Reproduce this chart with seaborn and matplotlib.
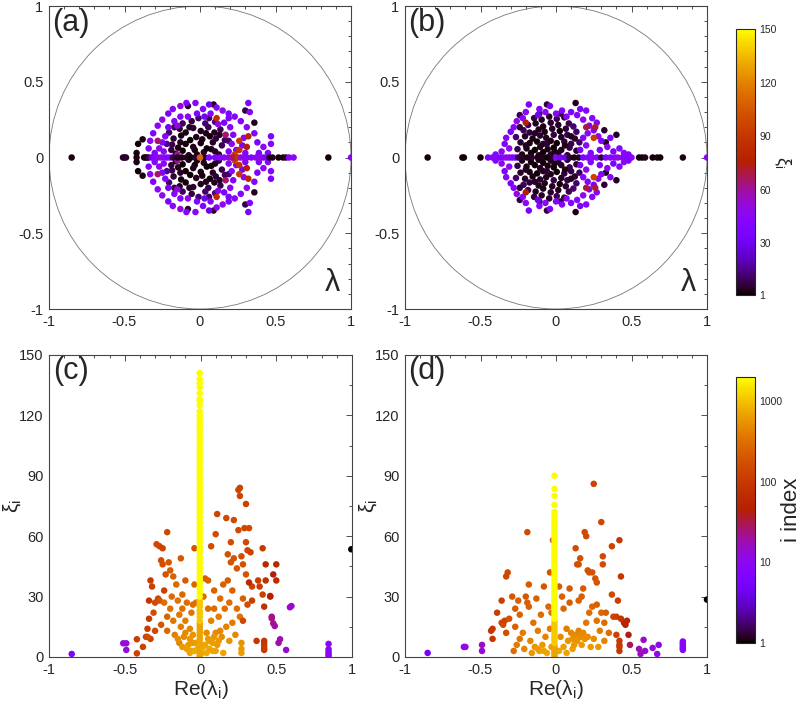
import numpy as np
import matplotlib
matplotlib.use("Agg")
import matplotlib.pyplot as plt
import seaborn as sns
from matplotlib.colors import Normalize, LogNorm
from matplotlib.cm import ScalarMappable
from matplotlib.patches import Circle
from matplotlib.ticker import MultipleLocator, LogLocator, NullFormatter

# --------------------------------------------------------------------------------
# Data
# (a), (b): eigenvalues (Re, Im, xi). Complex ones come in conjugate pairs, so only
# the upper half plane is listed; real ones are listed separately.
# (c), (d): (Re(lambda_i), xi_i, i index)
# --------------------------------------------------------------------------------

A_core = [  # dark core, small xi
    (-0.16, 0.025, 3), (-0.115, 0.045, 2), (-0.075, 0.015, 4), (-0.035, 0.05, 2), (0.025, 0.035, 5),
    (0.075, 0.055, 3), (0.125, 0.02, 6), (-0.185, 0.085, 8), (-0.145, 0.065, 3), (-0.095, 0.09, 2),
    (-0.045, 0.07, 4), (0.005, 0.095, 3), (0.045, 0.06, 2), (0.085, 0.10, 5), (0.145, 0.08, 9),
    (-0.175, 0.125, 6), (-0.125, 0.145, 3), (-0.065, 0.115, 2), (-0.025, 0.135, 4), (0.015, 0.12, 3),
    (0.065, 0.14, 2), (0.105, 0.125, 7), (0.165, 0.115, 10), (-0.205, 0.165, 12), (-0.135, 0.19, 5),
    (-0.095, 0.165, 3), (-0.045, 0.195, 6), (0.005, 0.175, 4), (0.055, 0.20, 8), (0.095, 0.165, 5),
    (0.135, 0.185, 9), (-0.115, 0.225, 10), (-0.055, 0.24, 7), (0.035, 0.225, 12), (0.10, 0.235, 14),
    (-0.02, 0.02, 3), (0.10, 0.04, 4), (-0.13, 0.10, 5), (0.04, 0.16, 3), (-0.17, 0.20, 9),
    (0.13, 0.15, 4), (-0.01, 0.26, 11), (0.06, 0.26, 10), (-0.19, 0.05, 7), (-0.07, 0.20, 5),
    (-0.08, 0.34, 6), (0.09, 0.35, 5), (0.36, 0.23, 4), (-0.38, 0.12, 3), (-0.41, 0.09, 2),
    (-0.42, 0.03, 3), (0.30, 0.31, 8), (-0.22, 0.09, 15), (0.19, 0.11, 12),
]
A_ring = [  # purple ring
    (-0.30, 0.03, 40), (-0.27, 0.06, 45), (-0.25, 0.10, 38), (-0.23, 0.14, 42), (-0.24, 0.04, 48),
    (-0.21, 0.20, 35), (-0.17, 0.24, 44), (-0.15, 0.21, 50), (-0.13, 0.27, 40), (-0.08, 0.27, 45),
    (-0.02, 0.29, 38), (0.03, 0.27, 30), (0.07, 0.29, 42), (0.12, 0.22, 47), (0.16, 0.23, 36),
    (0.20, 0.20, 44), (0.22, 0.15, 40), (0.21, 0.09, 46), (0.24, 0.05, 38), (0.19, 0.04, 42),
    (0.28, 0.08, 35), (0.29, 0.13, 45), (0.30, 0.03, 40), (0.17, 0.15, 65), (0.19, 0.26, 38),
    (-0.34, 0.06, 40), (-0.33, 0.11, 45), (-0.31, 0.16, 38), (-0.28, 0.21, 42), (-0.25, 0.25, 48),
    (-0.21, 0.29, 35), (-0.18, 0.32, 44), (-0.13, 0.34, 50), (-0.09, 0.36, 40), (-0.03, 0.36, 45),
    (0.02, 0.32, 38), (0.06, 0.35, 30), (0.11, 0.33, 42), (0.15, 0.31, 47), (0.19, 0.29, 36),
    (0.23, 0.27, 44), (0.27, 0.24, 40), (0.31, 0.20, 46), (0.32, 0.36, 38), (0.33, 0.30, 44),
    (0.36, 0.16, 40), (0.38, 0.10, 35), (0.42, 0.07, 45), (0.47, 0.14, 38), (0.47, 0.09, 42),
    (0.45, 0.03, 40), (0.39, 0.03, 36), (-0.28, 0.11, 65), (-0.15, 0.02, 60), (0.11, 0.26, 85),
    (0.32, 0.14, 80), (0.26, 0.11, 92), (0.31, 0.07, 75), (0.26, 0.05, 88), (0.23, 0.02, 95),
]
A_real = [
    (-0.85, 3), (-0.51, 5), (-0.50, 4), (-0.49, 6), (-0.42, 3), (-0.37, 2), (-0.36, 4),
    (-0.35, 3), (-0.34, 8), (-0.32, 30), (-0.30, 40), (-0.28, 45), (-0.26, 50), (-0.24, 42),
    (-0.22, 38), (-0.20, 45), (-0.18, 8), (-0.15, 4), (-0.12, 3), (-0.09, 5), (-0.06, 2),
    (-0.03, 6), (0.03, 3), (0.06, 40), (0.10, 35), (0.13, 45), (0.16, 42), (0.19, 50),
    (0.21, 60), (0.23, 70), (0.25, 90), (0.27, 55), (0.29, 45), (0.31, 40), (0.34, 38),
    (0.37, 45), (0.40, 50), (0.42, 40), (0.44, 35), (0.46, 3), (0.48, 4), (0.52, 2),
    (0.55, 3), (0.57, 5), (0.59, 40), (0.62, 45), (0.85, 2), (1.00, 45), (0.00, 110),
]

B_core = [
    (-0.225, 0.02, 3), (-0.165, 0.03, 2), (-0.115, 0.015, 4), (-0.085, 0.035, 2), (-0.035, 0.02, 5),
    (0.015, 0.03, 3), (0.075, 0.015, 6), (-0.255, 0.055, 8), (-0.195, 0.06, 3), (-0.14, 0.05, 2),
    (-0.105, 0.07, 4), (-0.055, 0.055, 3), (-0.015, 0.065, 2), (0.035, 0.05, 5), (0.09, 0.065, 9),
    (0.135, 0.045, 6), (-0.235, 0.10, 5), (-0.175, 0.095, 3), (-0.125, 0.105, 2), (-0.085, 0.09, 4),
    (-0.035, 0.11, 3), (0.005, 0.095, 2), (0.055, 0.105, 7), (0.10, 0.09, 8), (0.155, 0.10, 10),
    (-0.265, 0.135, 12), (-0.205, 0.14, 5), (-0.155, 0.125, 3), (-0.105, 0.145, 6), (-0.065, 0.13, 4),
    (-0.015, 0.15, 8), (0.035, 0.135, 5), (0.075, 0.15, 9), (0.125, 0.125, 6), (-0.215, 0.18, 10),
    (-0.175, 0.165, 7), (-0.115, 0.185, 4), (-0.075, 0.17, 3), (-0.025, 0.19, 5), (0.025, 0.175, 2),
    (0.065, 0.19, 6), (0.135, 0.17, 11), (-0.185, 0.215, 9), (-0.135, 0.225, 4), (-0.085, 0.205, 3),
    (-0.035, 0.23, 6), (0.015, 0.215, 5), (0.085, 0.225, 8), (0.115, 0.205, 12), (-0.145, 0.26, 7),
    (-0.095, 0.25, 5), (-0.045, 0.27, 4), (0.005, 0.255, 9), (0.055, 0.265, 6),
    (-0.20, 0.08, 4), (-0.06, 0.09, 6), (0.06, 0.08, 3), (-0.14, 0.16, 5), (0.10, 0.14, 4),
    (-0.01, 0.04, 3), (-0.24, 0.20, 6), (0.03, 0.29, 8), (-0.11, 0.29, 10),
    (0.13, 0.36, 4), (0.40, 0.15, 5), (0.33, 0.10, 3), (0.32, 0.18, 6), (-0.24, 0.28, 8),
    (-0.06, 0.35, 7),
]
B_ring = [
    (-0.40, 0.02, 40), (-0.36, 0.04, 45), (-0.34, 0.09, 38), (-0.33, 0.13, 42), (-0.31, 0.06, 48),
    (-0.30, 0.17, 35), (-0.28, 0.20, 44), (-0.26, 0.24, 50), (-0.22, 0.26, 40), (-0.20, 0.30, 45),
    (-0.18, 0.35, 38), (-0.12, 0.28, 30), (-0.11, 0.32, 42), (-0.07, 0.30, 47), (-0.04, 0.34, 36),
    (0.00, 0.29, 44), (0.04, 0.31, 40), (0.07, 0.27, 46), (0.10, 0.30, 38), (0.14, 0.28, 42),
    (0.16, 0.32, 35), (0.18, 0.25, 45), (0.20, 0.31, 40), (0.22, 0.21, 38), (0.24, 0.26, 44),
    (0.25, 0.18, 36), (0.27, 0.23, 42), (0.28, 0.14, 48), (0.30, 0.11, 40), (0.29, 0.05, 38),
    (0.34, 0.07, 45), (0.36, 0.13, 42), (0.38, 0.04, 35), (0.42, 0.06, 40), (0.45, 0.03, 44),
    (0.48, 0.02, 38), (0.18, 0.13, 42), (0.20, 0.08, 46), (0.23, 0.03, 40), (0.16, 0.05, 36),
    (0.21, 0.16, 44), (-0.20, 0.23, 75), (0.20, 0.20, 70), (0.25, 0.13, 95), (0.26, 0.20, 72),
]
B_real = [
    (-0.85, 2), (-0.62, 3), (-0.61, 2), (-0.50, 2), (-0.45, 35), (-0.42, 40), (-0.39, 45),
    (-0.37, 38), (-0.35, 42), (-0.33, 50), (-0.31, 45), (-0.29, 40), (-0.27, 38), (-0.25, 8),
    (-0.22, 5), (-0.19, 3), (-0.16, 6), (-0.12, 3), (-0.09, 4), (-0.06, 2), (-0.03, 5),
    (0.00, 40), (0.03, 35), (0.06, 30), (0.09, 6), (0.12, 3), (0.15, 4), (0.18, 35),
    (0.21, 40), (0.24, 45), (0.27, 42), (0.30, 8), (0.33, 38), (0.36, 40), (0.39, 45),
    (0.41, 50), (0.44, 42), (0.47, 38), (0.50, 45), (0.55, 3), (0.57, 2), (0.59, 4),
    (0.64, 2), (0.67, 3), (0.69, 2), (0.84, 3), (1.00, 45),
]

C_cloud = [
    (-0.29, 56, 150), (-0.27, 55, 140), (-0.25, 54, 130), (-0.26, 48, 160), (-0.25, 46, 170),
    (-0.22, 62, 150), (-0.21, 47, 200), (-0.20, 43, 220), (-0.18, 40, 250), (-0.23, 41, 180),
    (-0.24, 33, 120), (-0.28, 29, 140), (-0.30, 27, 160), (-0.33, 38, 100), (-0.32, 35, 120),
    (-0.34, 28, 90), (-0.34, 19, 100), (-0.35, 14, 110), (-0.33, 9, 130), (-0.36, 10, 120),
    (-0.31, 22, 170), (-0.30, 13, 150), (-0.27, 28, 180), (-0.26, 16, 200), (-0.24, 27, 300),
    (-0.22, 20, 260), (-0.22, 13, 280), (-0.20, 24, 320), (-0.19, 30, 280), (-0.18, 18, 350),
    (-0.17, 11, 400), (-0.16, 36, 280), (-0.15, 28, 330), (-0.14, 21, 360), (-0.14, 7, 450),
    (-0.13, 15, 400), (-0.12, 31, 280), (-0.12, 24, 310), (-0.11, 10, 500), (-0.10, 38, 220),
    (-0.10, 18, 380), (-0.09, 27, 300), (-0.08, 6, 600), (-0.07, 14, 450), (-0.06, 22, 350),
    (-0.06, 3, 700), (-0.05, 11, 550), (-0.04, 36, 260), (-0.04, 54, 180), (-0.03, 7, 700),
    (-0.03, 27, 350), (-0.02, 4, 800), (-0.13, 49, 200), (-0.05, 26, 300),
    (0.02, 5, 800), (0.02, 30, 300), (0.03, 39, 230), (0.04, 12, 500), (0.05, 38, 250),
    (0.05, 24, 320), (0.06, 8, 650), (0.07, 18, 420), (0.07, 55, 170), (0.08, 3, 750),
    (0.09, 24, 300), (0.09, 33, 260), (0.10, 12, 480), (0.10, 61, 160), (0.11, 71, 140),
    (0.11, 6, 600), (0.12, 20, 380), (0.13, 29, 300), (0.14, 10, 500), (0.15, 36, 250),
    (0.15, 2, 700), (0.16, 24, 310), (0.17, 15, 420), (0.17, 69, 150), (0.18, 51, 180),
    (0.18, 38, 220), (0.19, 8, 550), (0.19, 27, 300), (0.20, 57, 170), (0.20, 47, 190),
    (0.21, 33, 250), (0.21, 17, 380), (0.22, 68, 150), (0.22, 49, 180), (0.23, 11, 480),
    (0.24, 44, 200), (0.24, 24, 300), (0.25, 83, 130), (0.26, 84, 130), (0.26, 80, 135),
    (0.25, 63, 150), (0.26, 20, 330), (0.27, 50, 170), (0.27, 2, 650), (0.27, 4, 600),
    (0.27, 7, 550), (0.28, 46, 180), (0.28, 29, 240), (0.28, 18, 140), (0.29, 64, 140),
    (0.30, 76, 120), (0.30, 57, 150), (0.30, 41, 190), (0.31, 53, 140), (0.31, 26, 160),
    (0.32, 64, 150), (0.33, 52, 130), (0.34, 28, 120), (0.34, 35, 130), (0.38, 38, 110),
    (0.39, 35, 110), (0.41, 54, 100), (0.41, 31, 120), (0.42, 25, 80), (0.43, 46, 60),
    (0.43, 38, 80), (0.46, 30, 40), (0.32, 37, 60), (0.37, 8, 90),
    (-0.09, 4, 650), (-0.07, 2, 720), (-0.05, 7, 620), (-0.04, 3, 760), (0.01, 2, 820),
    (0.03, 6, 700), (0.04, 2, 760), (0.05, 9, 600), (0.06, 4, 720), (0.08, 7, 640),
    (0.09, 10, 560), (0.10, 3, 700), (0.12, 8, 600), (0.13, 13, 460), (-0.12, 5, 600),
    (-0.15, 9, 500), (-0.10, 12, 480), (-0.07, 9, 560),
    (0.42, 3.5, 100), (0.42, 4.3, 110), (0.42, 5.5, 105), (0.42, 6.8, 100), (0.42, 8, 95),
    (-0.42, 8.8, 110), (-0.42, 1.8, 120), (-0.35, 10, 160), (-0.38, 5, 130),
    (-0.85, 1.5, 6), (-0.51, 6.8, 12), (-0.49, 6.8, 14), (-0.49, 3.5, 13),
    (0.845, 6.5, 10), (0.845, 3.8, 9), (0.845, 2.6, 10), (0.845, 1.5, 9), (0.845, 0.5, 10),
    (0.565, 3.5, 14), (0.515, 7, 20), (0.525, 8.8, 18), (0.48, 16.7, 22), (0.49, 15.4, 20),
    (0.47, 19.2, 24), (0.47, 20, 22), (0.48, 41, 40), (0.46, 30.3, 45), (0.50, 46, 60),
    (0.50, 38, 65), (0.60, 25.3, 15), (0.59, 24.7, 14), (0.995, 53.5, 1),
]
# vertical column at Re ~ 0 in (c): low (orange), mid, high (yellow) parts
C_bar_re = -0.005
C_bar_lo = [0.5, 1.5, 2.5, 3.5, 5, 6, 7.5, 9, 10.5, 12, 13.5, 15, 16.5]
C_bar_mid = [18, 20, 21.5, 23, 25, 26.5, 28]
C_bar_hi = [30, 32, 33.5, 35, 37, 38.5, 40, 42, 43.5, 45, 47, 48.5, 50, 52, 53.5, 55, 57,
            58.5, 60, 62, 63.5, 65, 67, 68.5, 70, 72, 73.5, 75, 77, 78.5, 80, 82, 83.5, 85,
            87, 88.5, 90, 92, 93.5, 95, 97, 98.5, 100, 102, 103.5, 105, 107, 108.5, 110,
            112, 113.5, 115, 117, 118.5, 120, 122, 125, 127, 128, 131, 134, 136, 138, 141]

D_cloud = [
    (-0.32, 42, 150), (-0.33, 40, 140), (-0.19, 62, 160), (-0.36, 28, 120), (-0.39, 22, 110),
    (-0.42, 14, 100), (-0.43, 13, 95), (-0.42, 9, 90), (-0.36, 17, 140), (-0.35, 16, 150),
    (-0.34, 18, 130), (-0.33, 12, 170), (-0.31, 19, 180), (-0.29, 30, 200), (-0.27, 24, 220),
    (-0.27, 15, 250), (-0.28, 3, 300), (-0.25, 28, 230), (-0.24, 21, 260), (-0.24, 9, 350),
    (-0.22, 12, 380), (-0.21, 4, 450), (-0.20, 30, 200), (-0.19, 27, 230), (-0.18, 25, 240),
    (-0.18, 36, 210), (-0.17, 8, 450), (-0.15, 17, 330), (-0.14, 5, 550), (-0.13, 29, 250),
    (-0.12, 13, 400), (-0.11, 3, 650), (-0.10, 21, 300), (-0.09, 6, 600), (-0.08, 35, 200),
    (-0.07, 10, 450), (-0.06, 2, 750), (-0.05, 25, 280), (-0.04, 42, 190), (-0.04, 14, 380),
    (-0.03, 5, 650), (-0.02, 58, 170), (-0.03, 22, 320), (-0.16, 2, 600), (-0.12, 4, 620),
    (-0.08, 3, 700), (-0.26, 6, 380),
    (0.02, 35, 220), (0.02, 3, 750), (0.03, 10, 500), (0.04, 30, 240), (0.05, 5, 650),
    (0.05, 24, 280), (0.07, 14, 400), (0.07, 2, 700), (0.08, 8, 550), (0.09, 34, 210),
    (0.09, 27, 230), (0.10, 12, 480), (0.11, 4, 650), (0.11, 9, 550), (0.12, 6, 600),
    (0.13, 11, 500), (0.13, 54, 160), (0.14, 46, 170), (0.14, 8, 560), (0.15, 46, 175),
    (0.15, 13, 450), (0.15, 28, 250), (0.16, 49, 165), (0.16, 10, 520), (0.17, 30, 230),
    (0.17, 6, 600), (0.18, 12, 480), (0.18, 34, 220), (0.19, 62, 150), (0.19, 9, 540),
    (0.20, 60, 150), (0.20, 17, 360), (0.21, 43, 180), (0.21, 10, 500), (0.22, 42, 180),
    (0.22, 22, 300), (0.23, 5, 600), (0.24, 25, 270), (0.24, 42, 185), (0.25, 86, 130),
    (0.25, 9, 520), (0.26, 39, 190), (0.27, 37, 195), (0.27, 26, 240), (0.27, 18, 330),
    (0.28, 5, 580), (0.29, 13, 400), (0.30, 67, 140), (0.30, 22, 280), (0.31, 50, 150),
    (0.31, 46, 160), (0.32, 17, 300), (0.32, 8, 450), (0.33, 22, 250), (0.35, 12, 300),
    (0.37, 55, 130), (0.37, 31, 150), (0.38, 20, 140), (0.40, 20, 120), (0.40, 11, 130),
    (0.41, 28, 110), (0.42, 58, 100), (0.42, 8, 100), (0.42, 6, 105), (0.42, 5, 100),
    (0.42, 3, 95), (0.43, 40, 90), (0.43, 19, 90), (0.45, 17, 60), (0.46, 16, 50),
    (0.47, 18, 55), (0.48, 11, 40), (0.49, 6, 30),
    (-0.85, 2, 5), (-0.61, 5, 10), (-0.60, 5, 12), (-0.49, 6, 15), (-0.49, 3, 14),
    (0.55, 4, 18), (0.56, 1.5, 16), (0.58, 8.5, 15), (0.59, 3, 14), (0.64, 4.5, 13),
    (0.68, 6, 12), (0.67, 1.5, 11), (0.84, 7.7, 8), (0.84, 6.8, 8), (0.84, 5.9, 9),
    (0.84, 5, 8), (0.84, 4.2, 9), (0.84, 3.5, 8), (1.00, 28.5, 1),
]
D_bar_re = -0.01
D_bar_lo = [0.5, 1.5, 2.5, 3.5, 4.5, 5.5]
D_bar_mid = [7, 8.5, 10, 11.5, 13, 14.5, 16, 17.5]
D_bar_hi = [19, 20.5, 22, 23.5, 25, 26.5, 28, 29.5, 31, 32.5, 34, 35.5, 37, 38.5, 40, 41.5,
            43, 44.5, 46, 47.5, 49, 50.5, 52, 53.5, 55, 56.5, 58, 59.5, 61, 62.5, 64, 65.5,
            67, 68.5, 70, 72, 75.5, 80, 83.5, 90]

# --------------------------------------------------------------------------------
# Style
# --------------------------------------------------------------------------------

sns.set_style("white")
plt.rcParams['font.family'] = ['Liberation Sans', 'DejaVu Sans']
plt.rcParams['mathtext.default'] = 'regular'
plt.rcParams['axes.unicode_minus'] = False

Cmap = "gnuplot"
Norm_Xi = Normalize(vmin=1, vmax=150)
Norm_Idx = LogNorm(vmin=1, vmax=2000)
Dot = 22

fig = plt.figure(figsize=(8.0, 7.01), dpi=100)

ax_a = fig.add_axes([0.06125, 0.5592, 0.3775, 0.4322])
ax_b = fig.add_axes([0.50625, 0.5592, 0.3775, 0.4322])
ax_c = fig.add_axes([0.06125, 0.0628, 0.3788, 0.4308])
ax_d = fig.add_axes([0.50625, 0.0628, 0.3775, 0.4308])
cax_1 = fig.add_axes([0.92, 0.5792, 0.02375, 0.3795])
cax_2 = fig.add_axes([0.92, 0.0827, 0.02375, 0.3795])


def frame(ax):
    ax.tick_params(which='both', direction='in', top=True, right=True,
                   labelsize=10.5, width=0.6, color='#333333', pad=4)
    ax.tick_params(which='major', length=4.5)
    ax.tick_params(which='minor', length=2.5)
    for s in ax.spines.values():
        s.set_linewidth(0.8)
        s.set_color('#444444')


def eigen_panel(ax, core, ring, real, label):
    up = np.array(core + ring)
    re = np.concatenate([up[:, 0], up[:, 0]])
    im = np.concatenate([up[:, 1], -up[:, 1]])  # conjugate partners
    xi = np.concatenate([up[:, 2], up[:, 2]])
    r = np.array(real)
    re = np.concatenate([re, r[:, 0]])
    im = np.concatenate([im, np.zeros(len(r))])
    xi = np.concatenate([xi, r[:, 1]])

    ax.add_patch(Circle((0, 0), 1, fill=False, lw=0.6, color='#777777'))
    sns.scatterplot(x=re, y=im, hue=xi, palette=Cmap, hue_norm=Norm_Xi,
                    s=Dot, linewidth=0, legend=False, ax=ax)
    ax.set_xlim(-1, 1)
    ax.set_ylim(-1, 1)
    ticks = [-1, -0.5, 0, 0.5, 1]
    names = ["-1", "-0.5", "0", "0.5", "1"]
    ax.set_xticks(ticks, names)
    ax.set_yticks(ticks, names)
    ax.xaxis.set_minor_locator(MultipleLocator(0.1))
    ax.yaxis.set_minor_locator(MultipleLocator(0.1))
    frame(ax)
    ax.text(0.012, 0.995, label, transform=ax.transAxes, ha='left', va='top', fontsize=22)
    ax.text(0.963, 0.035, "λ", transform=ax.transAxes, ha='right', va='bottom', fontsize=22)


def xi_panel(ax, cloud, bar_re, lo, mid, hi, label):
    c = np.array(cloud)
    sns.scatterplot(x=c[:, 0], y=c[:, 1], hue=c[:, 2], palette=Cmap, hue_norm=Norm_Idx,
                    s=Dot, linewidth=0, legend=False, ax=ax)
    bar_xi = np.array(lo + mid + hi)
    bar_i = np.array([700] * len(lo) + [1100] * len(mid) + [1900] * len(hi))
    sns.scatterplot(x=np.full(len(bar_xi), bar_re), y=bar_xi, hue=bar_i, palette=Cmap,
                    hue_norm=Norm_Idx, s=Dot, linewidth=0, legend=False, ax=ax)
    ax.set_xlim(-1, 1)
    ax.set_ylim(0, 150)
    ax.set_xticks([-1, -0.5, 0, 0.5, 1], ["-1", "-0.5", "0", "0.5", "1"])
    ax.set_yticks([0, 30, 60, 90, 120, 150], ["0", "30", "60", "90", "120", "150"])
    ax.xaxis.set_minor_locator(MultipleLocator(0.1))
    ax.yaxis.set_minor_locator(MultipleLocator(15))
    frame(ax)
    ax.set_xlabel("Re(λ$_{i}$)", fontsize=15)
    ax.xaxis.set_label_coords(0.5, -0.068)
    ax.set_ylabel("ξ$_{i}$", fontsize=15)
    ax.yaxis.set_label_coords(-0.085, 0.5)
    ax.text(0.012, 0.995, label, transform=ax.transAxes, ha='left', va='top', fontsize=22)


eigen_panel(ax_a, A_core, A_ring, A_real, "(a)")
eigen_panel(ax_b, B_core, B_ring, B_real, "(b)")
xi_panel(ax_c, C_cloud, C_bar_re, C_bar_lo, C_bar_mid, C_bar_hi, "(c)")
xi_panel(ax_d, D_cloud, D_bar_re, D_bar_lo, D_bar_mid, D_bar_hi, "(d)")

# --------------------------------------------------------------------------------
# Colour bars
# --------------------------------------------------------------------------------

cb1 = fig.colorbar(ScalarMappable(norm=Norm_Xi, cmap=Cmap), cax=cax_1)
cb1.set_ticks([1, 30, 60, 90, 120, 150])
cb1.set_ticklabels(["1", "30", "60", "90", "120", "150"])
cax_1.text(2.45, 0.5, "ξ$_{i}$", rotation=270, transform=cax_1.transAxes,
           ha='center', va='center', fontsize=13)

cb2 = fig.colorbar(ScalarMappable(norm=Norm_Idx, cmap=Cmap), cax=cax_2)
cb2.set_ticks([1, 10, 100, 1000])
cb2.set_ticklabels(["1", "10", "100", "1000"])
cax_2.yaxis.set_minor_locator(LogLocator(base=10, subs=np.arange(2, 10)))
cax_2.yaxis.set_minor_formatter(NullFormatter())
cax_2.text(2.9, 0.5, "i index", rotation=90, transform=cax_2.transAxes,
           ha='center', va='center', fontsize=16)

for cax in (cax_1, cax_2):
    cax.tick_params(which='both', direction='in', left=True, right=True,
                    labelsize=7.5, width=0.6, color='#333333', pad=3)
    cax.tick_params(which='major', length=3)
    cax.tick_params(which='minor', length=1.5)
cb1.outline.set_linewidth(0.8)
cb2.outline.set_linewidth(0.8)

fig.savefig("out.png", dpi=100)
